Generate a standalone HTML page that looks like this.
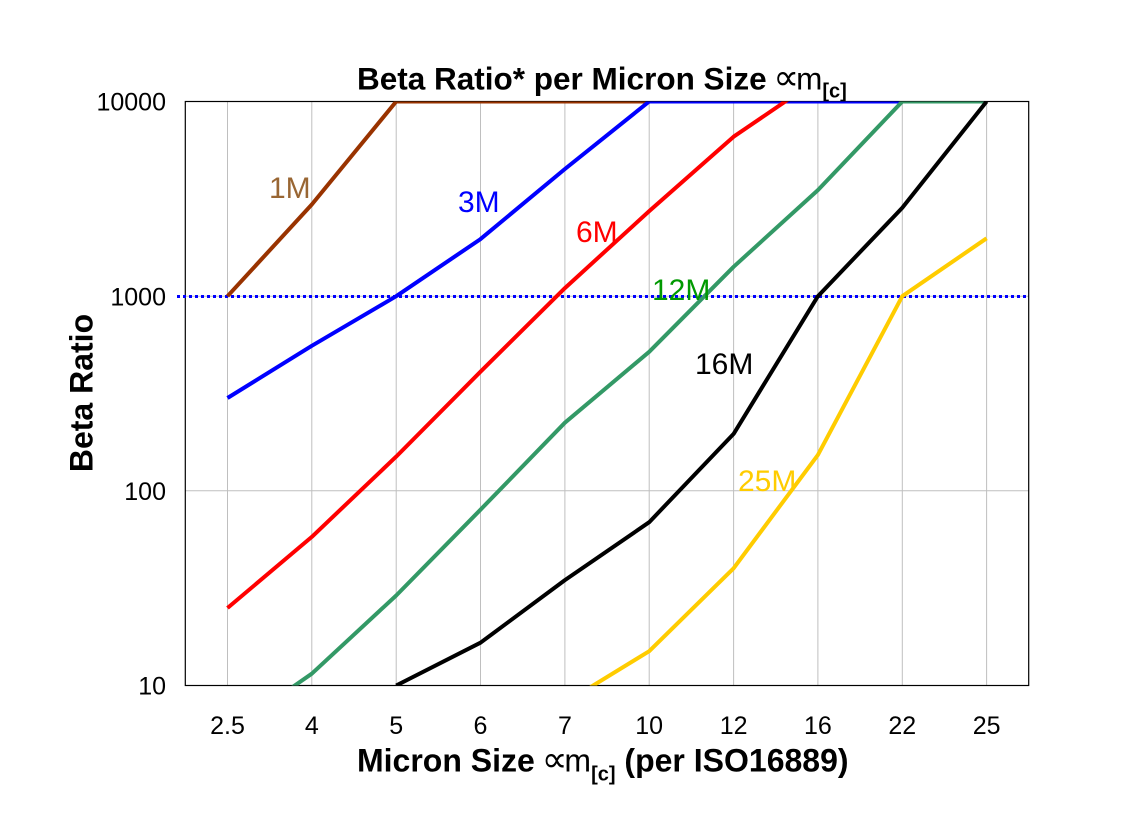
<!DOCTYPE html>
<html>
<head>
<meta charset="utf-8">
<style>
  html, body { margin:0; padding:0; background:#ffffff; }
  svg { display:block; }
  text { font-family: "Liberation Sans", Arial, sans-serif; }
</style>
</head>
<body>
<svg xmlns="http://www.w3.org/2000/svg" width="1146" height="814" viewBox="0 0 1146 814">
  <defs>
    <clipPath id="plot">
      <rect x="185.3" y="101.5" width="843.4" height="584"/>
    </clipPath>
  </defs>
  <rect x="0" y="0" width="1146" height="814" fill="#ffffff"/>

  <!-- Title -->
  <text x="357" y="89.5" font-size="31.5" font-weight="bold" fill="#000">Beta Ratio* per Micron Size <tspan font-weight="normal" font-family="DejaVu Sans, sans-serif" font-size="36" dx="-2">∝</tspan><tspan font-weight="normal" dx="-3">m</tspan><tspan font-size="20" dy="8">[c]</tspan></text>

  <!-- gridlines -->
  <g stroke="#bfbfbf" stroke-width="1">
    <line x1="227.5" y1="101.5" x2="227.5" y2="685.5"/>
    <line x1="311.8" y1="101.5" x2="311.8" y2="685.5"/>
    <line x1="396.2" y1="101.5" x2="396.2" y2="685.5"/>
    <line x1="480.5" y1="101.5" x2="480.5" y2="685.5"/>
    <line x1="564.9" y1="101.5" x2="564.9" y2="685.5"/>
    <line x1="649.2" y1="101.5" x2="649.2" y2="685.5"/>
    <line x1="733.6" y1="101.5" x2="733.6" y2="685.5"/>
    <line x1="817.9" y1="101.5" x2="817.9" y2="685.5"/>
    <line x1="902.3" y1="101.5" x2="902.3" y2="685.5"/>
    <line x1="986.6" y1="101.5" x2="986.6" y2="685.5"/>
    <line x1="185.3" y1="490.8" x2="1028.7" y2="490.8"/>
    <line x1="185.3" y1="296.2" x2="1028.7" y2="296.2"/>
  </g>

  <!-- plot border -->
  <rect x="185.3" y="101.5" width="843.4" height="584" fill="none" stroke="#000" stroke-width="1.2"/>

  <!-- dotted 1000 reference line -->
  <line x1="177" y1="296.5" x2="1028" y2="296.5" stroke="#0000ff" stroke-width="3" stroke-dasharray="3 3"/>

  <!-- series -->
  <g clip-path="url(#plot)" fill="none" stroke-width="4" stroke-linejoin="round">
    <path stroke="#993300" d="M227.5,296.2 L311.8,204.5 L396.2,101.5 L480.5,101.5 L564.9,101.5 L649.2,101.5 L733.6,101.5 L817.9,101.5 L902.3,101.5 L986.6,101.5"/>
    <path stroke="#0000ff" d="M227.5,398.0 L311.8,345.8 L396.2,296.2 L480.5,239.1 L564.9,169.0 L649.2,101.5 L733.6,101.5 L817.9,101.5 L902.3,101.5 L986.6,101.5"/>
    <path stroke="#ff0000" d="M227.5,608.0 L311.8,536.9 L396.2,456.6 L480.5,371.7 L564.9,288.1 L649.2,211.1 L733.6,136.7 L817.9,79.3 L902.3,20 L986.6,0"/>
    <path stroke="#339966" d="M227.5,732.2 L311.8,673.7 L396.2,595.5 L480.5,509.7 L564.9,422.7 L649.2,351.8 L733.6,266.8 L817.9,190.1 L902.3,101.5 L986.6,101.5"/>
    <path stroke="#000000" d="M396.2,685.5 L480.5,642.7 L564.9,580.1 L649.2,522.2 L733.6,433.9 L817.9,296.2 L902.3,207.8 L986.6,101.5"/>
    <path stroke="#ffcc00" d="M564.9,702.8 L649.2,651.2 L733.6,568.3 L817.9,454.9 L902.3,296.2 L986.6,238.3"/>
  </g>

  <!-- series labels -->
  <g font-size="30">
    <text x="269" y="198" fill="#996633">1M</text>
    <text x="458" y="212" fill="#0000ff">3M</text>
    <text x="576" y="242" fill="#ff0000">6M</text>
    <text x="652" y="300" fill="#009900">12M</text>
    <text x="695" y="374" fill="#000000">16M</text>
    <text x="738" y="491" fill="#ffcc00">25M</text>
  </g>

  <!-- y tick labels -->
  <g font-size="25" text-anchor="end" fill="#000">
    <text x="166" y="110.5">10000</text>
    <text x="166" y="305.5">1000</text>
    <text x="166" y="500">100</text>
    <text x="166" y="694.5">10</text>
  </g>

  <!-- x tick labels -->
  <g font-size="25" text-anchor="middle" fill="#000">
    <text x="227.5" y="734">2.5</text>
    <text x="311.8" y="734">4</text>
    <text x="396.2" y="734">5</text>
    <text x="480.5" y="734">6</text>
    <text x="564.9" y="734">7</text>
    <text x="649.2" y="734">10</text>
    <text x="733.6" y="734">12</text>
    <text x="817.9" y="734">16</text>
    <text x="902.3" y="734">22</text>
    <text x="986.6" y="734">25</text>
  </g>

  <!-- x axis title -->
  <text x="357" y="771.5" font-size="32" font-weight="bold" fill="#000">Micron Size <tspan font-weight="normal" font-family="DejaVu Sans, sans-serif" font-size="36" dx="-2">∝</tspan><tspan font-weight="normal" dx="-3">m</tspan><tspan font-size="20" dy="9">[c]</tspan><tspan dy="-9"> (per ISO16889)</tspan></text>

  <!-- y axis title -->
  <text transform="translate(92.5,393) rotate(-90)" text-anchor="middle" font-size="32" font-weight="bold" fill="#000">Beta Ratio</text>
</svg>
</body>
</html>
